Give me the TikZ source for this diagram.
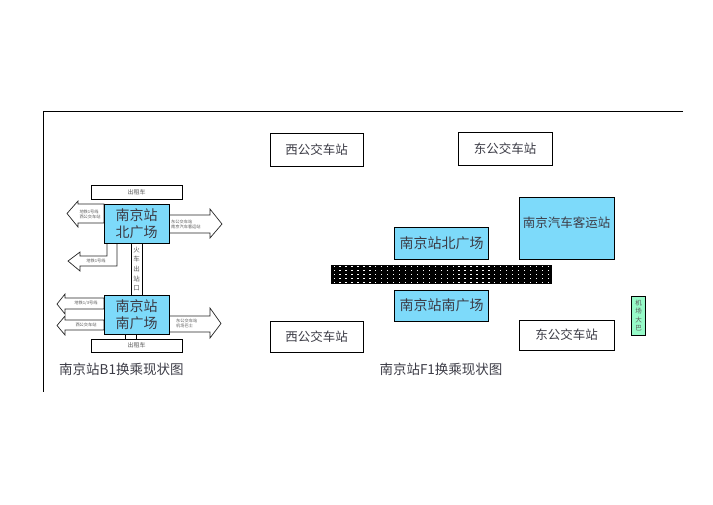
\documentclass[tikz,border=0pt]{standalone}
\usepackage{fontspec}
\setmainfont{Liberation Serif}
\newfontfamily\cjk{Noto Sans CJK SC}
\definecolor{plazablue}{RGB}{125,218,250}
\definecolor{mint}{RGB}{150,250,200}
\definecolor{txtgray}{RGB}{60,60,70}
\tikzset{
  plainbox/.style={draw=black, line width=0.9pt, fill=white, inner sep=0pt, font=\cjk\fontsize{12.5}{14}\selectfont, text=txtgray},
  bluebox/.style={draw=black, line width=0.9pt, fill=plazablue, inner sep=0pt, font=\cjk\fontsize{14}{17}\selectfont, text=txtgray, align=center},
  arrowshape/.style={draw=black!85, line width=0.7pt, fill=white, line join=miter},
  tinytext/.style={font=\cjk\fontsize{4.2}{5}\selectfont, text=black!65, align=left, inner sep=0pt},
  smalltext/.style={font=\cjk\fontsize{6}{7}\selectfont, text=black!65, inner sep=0pt},
  caption/.style={font=\cjk\fontsize{13.5}{15}\selectfont, text=txtgray, inner sep=0pt}
}
\begin{document}
\begin{tikzpicture}[x=1pt,y=-1pt]
\useasboundingbox (0,0) rectangle (713,504);
% frame
\draw[line width=0.9pt] (683,111) -- (43,111) -- (43,392);

% ===== B1 diagram =====
% north-left arrow
\draw[arrowshape] (104,204) -- (78,204) -- (78,201) -- (67,213.5) -- (78,227) -- (78,223) -- (104,223) -- cycle;
\node[tinytext] (nl) at (90,214) {地铁1号线\\西公交车站};
% north-right arrow
\draw[arrowshape] (169,215) -- (210,215) -- (210,209) -- (222,224) -- (210,238) -- (210,233) -- (169,233) -- cycle;
\node[tinytext, anchor=west] (nr) at (171,224) {东公交车站\\南京汽车客运站};
% lower-left bent arrow
\draw[arrowshape] (107,243) -- (107,256) -- (80,256) -- (80,252) -- (68,261) -- (80,271) -- (80,266) -- (117,266) -- (117,243);
\node[tinytext] (ll) at (96,261) {地铁1号线};
% train exit strip
\draw[line width=0.8pt, fill=white] (131,243) rectangle (142,295);
\node[smalltext, align=center, font=\cjk\fontsize{6.5}{9.6}\selectfont] (exit) at (136.5,269) {火\\车\\出\\站\\口};
% south-left arrows
\draw[arrowshape] (104,298) -- (65,298) -- (65,294) -- (57,304) -- (65,314) -- (65,309) -- (104,309) -- cycle;
\node[tinytext] (sl1) at (86,303.5) {地铁1/3号线};
\draw[arrowshape] (104,320) -- (65,320) -- (65,316) -- (57,325.5) -- (65,335) -- (65,330) -- (104,330) -- cycle;
\node[tinytext] (sl2) at (86,325) {西公交车站};
% south-right arrow
\draw[arrowshape] (169,316) -- (210,316) -- (210,308) -- (221,323.5) -- (210,338) -- (210,332) -- (169,332) -- cycle;
\node[tinytext, anchor=west] (sr) at (176,323) {东公交车站\\机场巴士};
% taxi boxes
\node[plainbox, minimum width=91pt, minimum height=14pt, font=\cjk\fontsize{6}{7}\selectfont, text=black!65] (taxiN) at (136.5,192.5) {出租车};
\node[plainbox, minimum width=91pt, minimum height=13pt, font=\cjk\fontsize{6}{7}\selectfont, text=black!65] (taxiS) at (136.5,345.5) {出租车};
% plaza boxes
\node[bluebox, minimum width=65pt, minimum height=39pt] (nplaza) at (136.5,223.5) {南京站\\北广场};
\node[bluebox, minimum width=65pt, minimum height=39pt] (splaza) at (136.5,314.5) {南京站\\南广场};
\draw[line width=0.8pt] (125,334) -- (125,339) (136,334) -- (136,339);
\node[caption, anchor=west] (capB1) at (59,369) {南京站B1换乘现状图};

% ===== F1 diagram =====
\node[plainbox, minimum width=93pt, minimum height=33pt] (wbusN) at (316.5,150) {西公交车站};
\node[plainbox, minimum width=94pt, minimum height=33pt] (ebusN) at (505,148.5) {东公交车站};
\node[bluebox, minimum width=95pt, minimum height=62pt, font=\cjk\fontsize{12.5}{14}\selectfont] (coach) at (566.5,228) {};
\node[font=\cjk\fontsize{12.5}{14}\selectfont, text=txtgray, inner sep=0pt] (coachtext) at (566.5,223) {南京汽车客运站};
\node[bluebox, minimum width=94pt, minimum height=32pt] (nplazaF) at (441.5,243) {南京站北广场};
\fill[black] (331,265) rectangle (552,284);
\foreach \i in {0,...,36} {
  \foreach \j in {0,...,4} {
    \fill[white] (333.5+\i*5.95, 265.6+\j*4.1) rectangle ++(1.3,1.2);
  }
}
\node[bluebox, minimum width=94pt, minimum height=31pt] (splazaF) at (441.5,305.5) {南京站南广场};
\node[plainbox, minimum width=93pt, minimum height=31pt] (wbusS) at (316.5,336.5) {西公交车站};
\node[plainbox, minimum width=95pt, minimum height=30pt] (ebusS) at (566.5,335) {东公交车站};
\node[draw=black, line width=1pt, fill=mint, minimum width=14pt, minimum height=39pt, inner sep=0pt, font=\cjk\fontsize{6.5}{8.5}\selectfont, text=black!65, align=center] (airport) at (638.5,315.5) {机\\场\\大\\巴};
\node[caption] (capF1) at (441,369) {南京站F1换乘现状图};
\end{tikzpicture}
\end{document}
